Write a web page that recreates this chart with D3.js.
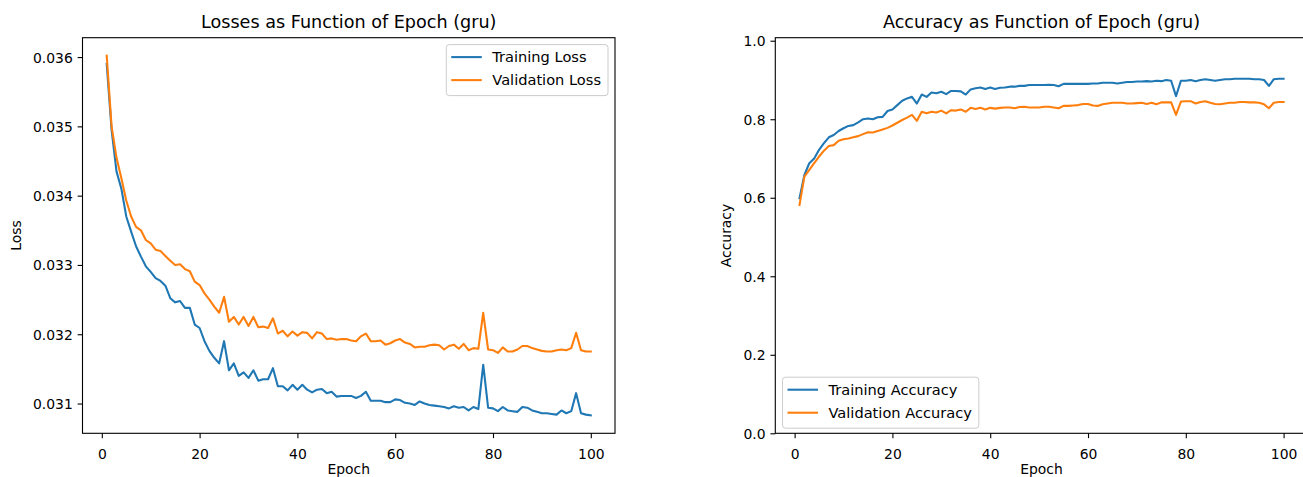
<!DOCTYPE html>
<html><head><meta charset="utf-8">
<script src="https://cdn.jsdelivr.net/npm/d3@7"></script>
<style>
body{margin:0;background:#fff}
svg{display:block;background:#fff}
text{font-family:"DejaVu Sans",sans-serif;fill:#000}
</style>
</head><body>
<svg id="chart" width="1303" height="477"></svg>
<script>
const epochs = d3.range(1, 101);
const trainLoss = [
0.03590,0.03495,0.03435,0.03410,0.03370,0.03348,0.03327,0.03312,0.03298,0.03290,
0.03281,0.03277,0.03270,0.03252,0.03246,0.03248,0.03238,0.03238,0.03214,0.03209,
0.03190,0.03176,0.03166,0.03158,0.03190,0.03148,0.03158,0.03140,0.03145,0.03137,
0.03148,0.03133,0.03135,0.03135,0.03151,0.03125,0.03125,0.03119,0.03127,0.03120,
0.03127,0.03120,0.03116,0.03120,0.03121,0.03115,0.03117,0.03110,0.03111,0.03111,
0.03111,0.03108,0.03111,0.03117,0.03104,0.03104,0.03104,0.03102,0.03102,0.03106,
0.03105,0.03101,0.03100,0.03098,0.03103,0.03100,0.03098,0.03097,0.03096,0.03095,
0.03093,0.03096,0.03094,0.03095,0.03090,0.03095,0.03092,0.03156,0.03094,0.03093,
0.03089,0.03095,0.03090,0.03089,0.03088,0.03095,0.03094,0.03090,0.03088,0.03086,
0.03086,0.03085,0.03084,0.03090,0.03086,0.03089,0.03115,0.03086,0.03084,0.03083];
const valLoss = [
0.03602,0.03500,0.03455,0.03425,0.03393,0.03370,0.03355,0.03350,0.03336,0.03331,
0.03322,0.03320,0.03313,0.03306,0.03300,0.03301,0.03294,0.03291,0.03276,0.03271,
0.03259,0.03250,0.03240,0.03231,0.03254,0.03218,0.03225,0.03214,0.03225,0.03212,
0.03225,0.03210,0.03211,0.03209,0.03223,0.03201,0.03205,0.03197,0.03204,0.03198,
0.03203,0.03202,0.03194,0.03203,0.03201,0.03193,0.03194,0.03192,0.03193,0.03193,
0.03191,0.03190,0.03197,0.03201,0.03190,0.03190,0.03191,0.03185,0.03187,0.03191,
0.03193,0.03188,0.03186,0.03181,0.03182,0.03182,0.03184,0.03185,0.03184,0.03178,
0.03183,0.03185,0.03179,0.03186,0.03177,0.03180,0.03179,0.03231,0.03178,0.03177,
0.03173,0.03181,0.03175,0.03175,0.03178,0.03183,0.03183,0.03180,0.03178,0.03176,
0.03175,0.03175,0.03177,0.03178,0.03177,0.03180,0.03202,0.03177,0.03175,0.03175];
const trainAcc = [
0.599,0.658,0.688,0.700,0.722,0.739,0.754,0.760,0.770,0.777,
0.783,0.785,0.792,0.800,0.802,0.800,0.805,0.806,0.821,0.825,
0.836,0.847,0.853,0.857,0.840,0.863,0.857,0.868,0.866,0.870,
0.864,0.872,0.872,0.871,0.863,0.876,0.879,0.881,0.877,0.881,
0.877,0.880,0.881,0.883,0.883,0.885,0.885,0.887,0.887,0.887,
0.887,0.888,0.887,0.884,0.890,0.890,0.890,0.890,0.890,0.890,
0.891,0.891,0.893,0.893,0.893,0.891,0.893,0.895,0.895,0.896,
0.896,0.897,0.896,0.898,0.897,0.900,0.898,0.859,0.898,0.898,
0.900,0.897,0.900,0.902,0.900,0.898,0.900,0.902,0.902,0.903,
0.903,0.903,0.903,0.902,0.902,0.900,0.885,0.902,0.903,0.903];
const valAcc = [
0.5815,0.654,0.671,0.688,0.705,0.720,0.732,0.734,0.745,0.749,
0.751,0.754,0.757,0.762,0.767,0.766,0.770,0.774,0.778,0.784,
0.791,0.798,0.804,0.811,0.796,0.819,0.815,0.819,0.817,0.822,
0.815,0.823,0.822,0.825,0.819,0.829,0.826,0.829,0.825,0.829,
0.827,0.829,0.830,0.830,0.828,0.831,0.832,0.830,0.830,0.830,
0.832,0.832,0.830,0.828,0.834,0.834,0.835,0.836,0.839,0.839,
0.835,0.834,0.838,0.840,0.842,0.842,0.842,0.840,0.840,0.841,
0.842,0.839,0.842,0.838,0.843,0.843,0.843,0.811,0.845,0.846,
0.846,0.840,0.844,0.846,0.842,0.839,0.838,0.840,0.842,0.842,
0.844,0.844,0.843,0.843,0.842,0.838,0.828,0.842,0.844,0.844];
const epochTicks = [0, 20, 40, 60, 80, 100];
const lossTicks = [0.031, 0.032, 0.033, 0.034, 0.035, 0.036];
const accTicks = [0.0, 0.2, 0.4, 0.6, 0.8, 1.0];

const BLUE = "#1f77b4", ORANGE = "#ff7f0e";
const svg = d3.select("#chart");
svg.append("rect").attr("width",1303).attr("height",477).attr("fill","#fff");

const TICK = 4.86, PAD = 4.86, FS = 13.9;

function padded(arrs){
  const all = arrs.flat();
  const lo = d3.min(all), hi = d3.max(all), m = (hi-lo)*0.05;
  return [lo-m, hi+m];
}

function panel(cfg){
  const {x0,x1,y0,y1,id} = cfg;
  const x = d3.scaleLinear().domain(padded([epochs])).range([x0,x1]);
  const y = d3.scaleLinear().domain(cfg.ydomain).range([y1,y0]);
  const g = svg.append("g");
  g.append("clipPath").attr("id","clip"+id).append("rect")
    .attr("x",x0).attr("y",y0).attr("width",x1-x0).attr("height",y1-y0);
  const line = d3.line().x((d,i)=>x(epochs[i])).y(d=>y(d));
  cfg.series.forEach(s=>{
    g.append("path").attr("d",line(s.values)).attr("fill","none")
      .attr("stroke",s.color).attr("stroke-width",2.08)
      .attr("stroke-linejoin","round").attr("stroke-linecap","square")
      .attr("clip-path","url(#clip"+id+")");
  });
  g.append("rect").attr("x",x0).attr("y",y0).attr("width",x1-x0).attr("height",y1-y0)
    .attr("fill","none").attr("stroke","#000").attr("stroke-width",1.1);
  const ax = g.append("g").attr("transform",`translate(0,${y1})`)
    .call(d3.axisBottom(x).tickValues(epochTicks).tickFormat(d3.format("d")).tickSize(TICK).tickPadding(PAD));
  ax.select(".domain").remove();
  ax.selectAll("line").attr("stroke","#000").attr("stroke-width",1.1);
  ax.selectAll("text").attr("font-size",FS).attr("font-family","DejaVu Sans").attr("fill","#000")
    .attr("y",25.5).attr("dy",null);
  const ay = g.append("g").attr("transform",`translate(${x0},0)`)
    .call(d3.axisLeft(y).tickValues(cfg.yticks).tickFormat(d3.format(cfg.yfmt)).tickSize(TICK).tickPadding(PAD));
  ay.select(".domain").remove();
  ay.selectAll("line").attr("stroke","#000").attr("stroke-width",1.1);
  ay.selectAll("text").attr("font-size",FS).attr("font-family","DejaVu Sans").attr("fill","#000")
    .attr("dy","0.36em");
  const cx = (x0+x1)/2, cy = (y0+y1)/2;
  g.append("text").attr("x",cx).attr("y",28).attr("text-anchor","middle")
    .attr("font-size",17.6).text(cfg.title);
  g.append("text").attr("x",cx).attr("y",473.5).attr("text-anchor","middle")
    .attr("font-size",FS).text("Epoch");
  g.append("text").attr("transform",`translate(${cfg.ylabX},${cy}) rotate(-90)`)
    .attr("text-anchor","middle").attr("font-size",FS).text(cfg.ylabel);
  const L = cfg.legend;
  const lg = g.append("g");
  const box = lg.append("rect").attr("rx",3).attr("ry",3)
    .attr("fill","#fff").attr("fill-opacity",0.8).attr("stroke","#ccc").attr("stroke-width",1);
  const texts = [];
  cfg.series.forEach((s,i)=>{
    texts.push(lg.append("text").attr("font-size",14.6).text(s.name));
  });
  const tw = d3.max(texts, t=>t.node().getComputedTextLength());
  const bw = 46 + tw + 7, bh = 51;
  const bx = L.right !== undefined ? L.right - bw : L.left;
  const by = L.top !== undefined ? L.top : L.bottom - bh;
  box.attr("x",bx).attr("y",by).attr("width",bw).attr("height",bh);
  cfg.series.forEach((s,i)=>{
    const ry = by + 12.5 + i*23;
    lg.append("line").attr("x1",bx+5).attr("x2",bx+35.5).attr("y1",ry).attr("y2",ry)
      .attr("stroke",s.color).attr("stroke-width",2.08);
    texts[i].attr("x",bx+46).attr("y",ry+5);
  });
}

panel({id:"L", x0:82.5, x1:615, y0:37.7, y1:433.3,
  ydomain: padded([trainLoss, valLoss]), yticks: lossTicks, yfmt: ".3f",
  title: "Losses as Function of Epoch (gru)", ylabel: "Loss", ylabX: 21,
  series: [{name:"Training Loss", values: trainLoss, color: BLUE},
           {name:"Validation Loss", values: valLoss, color: ORANGE}],
  legend: {right: 608, top: 44.6}});

panel({id:"R", x0:775.3, x1:1307.8, y0:37.7, y1:433.3,
  ydomain: [0, 1.0077], yticks: accTicks, yfmt: ".1f",
  title: "Accuracy as Function of Epoch (gru)", ylabel: "Accuracy", ylabX: 731,
  series: [{name:"Training Accuracy", values: trainAcc, color: BLUE},
           {name:"Validation Accuracy", values: valAcc, color: ORANGE}],
  legend: {left: 782.5, bottom: 428.2}});
</script>
</body></html>
